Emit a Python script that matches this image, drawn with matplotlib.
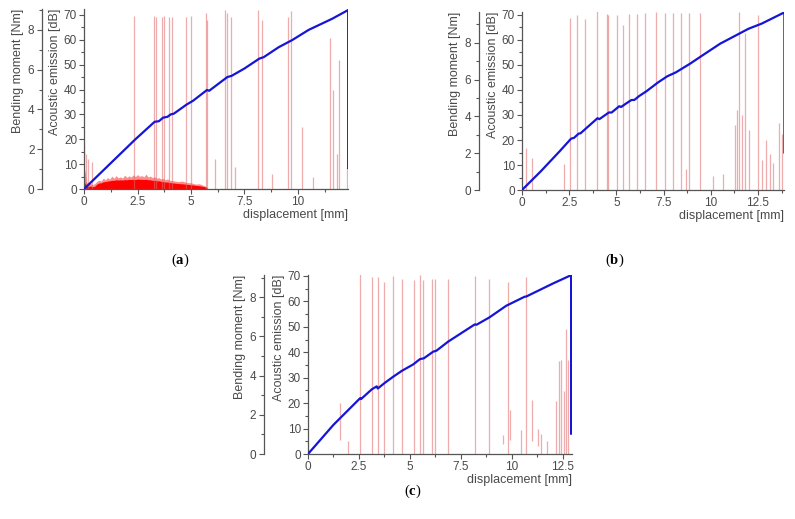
import matplotlib
matplotlib.use("Agg")
import matplotlib.pyplot as plt
from matplotlib.ticker import MultipleLocator

plt.rcParams['font.family'] = ['Liberation Sans', 'DejaVu Sans']
plt.rcParams['mathtext.fontset'] = 'custom'
plt.rcParams['mathtext.rm'] = 'Liberation Serif'
plt.rcParams['mathtext.bf'] = 'Liberation Serif:bold'

# ---- bending moment curves (displacement [mm], moment [Nm]) ----
disp_a = [0, 1.2, 2.4, 3.3, 3.5, 3.7, 3.9, 4.05, 4.2, 4.8, 5.1, 5.75, 5.85, 6.7, 6.9,
          7.5, 8.2, 8.4, 9.1, 9.75, 10.5, 11.6, 12.35, 12.35]
moment_a = [0, 1.25, 2.5, 3.38, 3.41, 3.59, 3.63, 3.75, 3.79, 4.25, 4.44, 4.98, 4.94,
            5.63, 5.69, 6.06, 6.56, 6.63, 7.13, 7.5, 8.0, 8.56, 9.0, 1.06]

disp_b = [0, 1, 2, 2.6, 2.75, 3.0, 3.1, 3.45, 4.0, 4.1, 4.6, 4.75, 5.15, 5.25, 5.5, 5.8,
          5.95, 6.2, 6.6, 7.2, 7.7, 8.15, 8.9, 9.6, 10.5, 11.5, 12.0, 12.7, 13.9, 13.9]
moment_b = [0, 1.02, 2.11, 2.79, 2.83, 3.06, 3.08, 3.40, 3.90, 3.85, 4.21, 4.21, 4.55,
            4.51, 4.69, 4.89, 4.89, 5.10, 5.37, 5.84, 6.18, 6.39, 6.86, 7.34, 7.95, 8.49,
            8.76, 9.04, 9.65, 2.04]

disp_c = [0, 1.25, 2.56, 2.6, 3.13, 3.37, 3.42, 3.78, 4.19, 4.6, 5.16, 5.49, 5.68, 6.14,
          6.3, 6.87, 8.18, 8.26, 8.9, 9.72, 10.62, 10.7, 12.0, 12.9, 12.9]
moment_c = [0, 1.49, 2.85, 2.80, 3.30, 3.45, 3.34, 3.64, 3.95, 4.24, 4.57, 4.84, 4.88,
            5.22, 5.27, 5.73, 6.61, 6.59, 6.97, 7.56, 8.02, 8.03, 8.69, 9.12, 1.04]

# ---- acoustic emission hits (position [mm], base [dB], peak [dB]) ----
hit_x_a = [2.35, 3.29, 3.35, 3.66, 3.75, 3.99, 4.1, 4.75, 5.0, 5.7, 5.73, 6.6, 6.67, 6.85,
           8.12, 8.33, 9.52, 9.66, 11.5, 11.65, 11.93, 12.3, 10.17, 10.7, 6.12, 7.07, 8.77,
           11.84, 0.02, 0.1, 0.2, 0.35]
hit_lo_a = [0] * len(hit_x_a)
hit_hi_a = [69.6, 69.6, 69, 69, 69.6, 69, 69, 69, 69.6, 71, 68, 72, 71, 69, 72, 67.8, 69,
            71.6, 60.8, 40, 52, 9, 25, 5, 12, 9, 6, 14, 18, 14, 12, 11]

hit_x_b = [2.53, 2.93, 3.36, 3.98, 4.5, 4.58, 5.04, 5.35, 5.65, 6.1, 6.5, 7.08, 7.56, 8.0,
           8.41, 8.82, 9.42, 11.5, 11.8, 12.5, 0.19, 0.55, 2.2, 8.7, 11.27, 11.4, 11.68,
           12.03, 12.9, 13.13, 13.3, 13.62, 13.75, 12.7, 10.1, 10.65]
hit_lo_b = [0] * len(hit_x_b)
hit_hi_b = [68.6, 70, 68.2, 71.7, 70.4, 70, 70, 66, 70.4, 70.4, 70.6, 71.3, 70.8, 70.6,
            70.6, 70.6, 70.6, 71, 62.6, 70, 17, 13, 10.5, 8.5, 26, 32, 30, 24, 20, 14.5,
            11, 26.6, 22.5, 11.9, 5.6, 6.5]

hit_x_c = [2.56, 3.13, 3.42, 3.75, 4.16, 4.61, 5.2, 5.49, 5.65, 6.1, 6.23, 6.88, 8.21, 8.88,
           9.81, 10.67, 1.58, 1.96, 9.9, 9.57, 10.43, 11.0, 11.28, 11.44, 11.7, 12.17,
           12.3, 12.42, 12.55, 12.66, 12.74]
hit_lo_c = [0] * 16 + [5.6, 0, 5.5, 4, 0, 5, 3, 0, 0, 0, 0, 0, 0, 0, 0]
hit_hi_c = [70.8, 69.7, 69.7, 67.8, 70, 69, 68.4, 70.4, 68.4, 68.7, 68.7, 69, 70, 69, 67.8,
            69.7, 20, 5, 17.4, 7.6, 9.5, 21.3, 10, 8, 5, 21, 36.4, 37, 24.6, 49, 37]

# dense low-amplitude emission in specimen (a): ragged outer envelope and solid core
noise_x = [0, 0.05, 0.1, 0.15, 0.2, 0.3, 0.4, 0.5, 0.6, 0.7, 0.8, 0.9, 1.0, 1.1, 1.2,
           1.3, 1.4, 1.5, 1.6, 1.7, 1.8, 1.9, 2.0, 2.1, 2.2, 2.3, 2.4, 2.5, 2.6, 2.7, 2.8,
           2.9, 3.0, 3.1, 3.2, 3.3, 3.4, 3.5, 3.6, 3.7, 3.8, 3.9, 4.0, 4.2, 4.4, 4.6, 4.8,
           5.0, 5.2, 5.4, 5.6, 5.72, 5.78]
noise_top = [4, 8, 3, 2.5, 2, 2.4, 1.6, 2.2, 3.0, 3.6, 3.2, 4.4, 3.7, 4.6, 4.0, 5.2, 4.3,
             5.4, 4.5, 4.9, 4.4, 5.6, 4.7, 5.3, 4.8, 5.7, 5.0, 5.8, 5.1, 5.4, 4.9, 6.0, 4.8,
             5.2, 4.6, 4.9, 4.3, 4.6, 4.0, 4.3, 3.7, 4.1, 3.5, 3.3, 3.0, 3.2, 2.6, 2.5, 2.0,
             2.1, 1.4, 1.0, 0]
noise_core = [1.5, 2.5, 1.5, 1.2, 1.0, 1.2, 0.9, 1.1, 2.0, 2.4, 2.5, 2.9, 3.0, 3.2, 3.3,
              3.5, 3.5, 3.7, 3.6, 3.7, 3.6, 3.8, 3.7, 3.9, 3.8, 3.9, 3.8, 4.0, 3.9, 3.9,
              3.8, 3.9, 3.7, 3.7, 3.5, 3.5, 3.3, 3.3, 3.1, 3.0, 2.8, 2.8, 2.6, 2.4, 2.2,
              2.1, 1.9, 1.7, 1.5, 1.3, 1.0, 0.7, 0]

panels = [
    dict(rect=[0.1057, 0.6358, 0.332, 0.3468], disp=disp_a, moment=moment_a,
         hx=hit_x_a, hlo=hit_lo_a, hhi=hit_hi_a, xmax=12.34, ae_top=72.4, m_top=9.05,
         off=30.2, tag='a', tag_xy=(0.2264, 0.499)),
    dict(rect=[0.6566, 0.6339, 0.3296, 0.343], disp=disp_b, moment=moment_b,
         hx=hit_x_b, hlo=hit_lo_b, hhi=hit_hi_b, xmax=13.88, ae_top=71.2, m_top=9.67,
         off=31.0, tag='b', tag_xy=(0.7736, 0.499)),
    dict(rect=[0.3874, 0.1252, 0.332, 0.345], disp=disp_c, moment=moment_c,
         hx=hit_x_c, hlo=hit_lo_c, hhi=hit_hi_c, xmax=12.94, ae_top=70.4, m_top=9.13,
         off=31.7, tag='c', tag_xy=(0.5195, 0.054)),
]

grey = '#555555'
txt = '#4a4a4a'
fig = plt.figure(figsize=(7.95, 5.19), dpi=100)

for i, p in enumerate(panels):
    ax = fig.add_axes(p['rect'])
    ax.vlines(p['hx'], p['hlo'], p['hhi'], color='#e06868', alpha=0.55, lw=0.9)
    if i == 0:
        ax.fill_between(noise_x, 0, noise_top, color='#ff3030', alpha=0.55, lw=0)
        ax.fill_between(noise_x, 0, noise_core, color='#ff0000', lw=0)
    ax.set_xlim(0, p['xmax'])
    ax.set_ylim(0, p['ae_top'])
    ax.xaxis.set_major_locator(MultipleLocator(2.5))
    ax.xaxis.set_minor_locator(MultipleLocator(1.25))
    ax.yaxis.set_major_locator(MultipleLocator(10))
    ax.yaxis.set_minor_locator(MultipleLocator(5))
    ax.xaxis.set_major_formatter(plt.FuncFormatter(lambda v, pos: f'{v:g}'))
    for s in ['top', 'right']:
        ax.spines[s].set_visible(False)
    for s in ['left', 'bottom']:
        ax.spines[s].set_color(grey)
        ax.spines[s].set_linewidth(0.9)
    ax.tick_params(which='both', direction='out', colors=grey, labelsize=8.5,
                   labelcolor=txt, width=0.8, pad=1.5)
    ax.tick_params(which='major', length=3.5)
    ax.tick_params(which='minor', length=2)
    ax.set_xlabel('displacement [mm]', loc='right', fontsize=9, color=txt, labelpad=1)
    ax.set_ylabel('Acoustic emission [dB]', loc='top', fontsize=9, color=txt,
                  labelpad=2)

    ax2 = ax.twinx()
    ax2.plot(p['disp'], p['moment'], color='#1515d8', lw=1.6)
    ax2.set_ylim(0, p['m_top'])
    ax2.yaxis.set_major_locator(MultipleLocator(2))
    ax2.yaxis.set_minor_locator(MultipleLocator(1))
    ax2.yaxis.tick_left()
    ax2.yaxis.set_label_position('left')
    for s in ['top', 'right', 'bottom']:
        ax2.spines[s].set_visible(False)
    ax2.spines['left'].set_visible(True)
    ax2.spines['left'].set_position(('outward', p['off']))
    ax2.spines['left'].set_color(grey)
    ax2.spines['left'].set_linewidth(0.9)
    ax2.tick_params(which='both', direction='out', colors=grey, labelsize=8.5,
                    labelcolor=txt, width=0.8, pad=2)
    ax2.tick_params(which='major', length=3.5)
    ax2.tick_params(which='minor', length=2)
    ax2.set_ylabel('Bending moment [Nm]', loc='top', fontsize=9, color=txt, labelpad=3)

    fig.text(p['tag_xy'][0], p['tag_xy'][1], '($\\mathbf{' + p['tag'] + '}$)',
             ha='center', va='center', fontsize=10.5, family='Liberation Serif')

fig.savefig('out.png', dpi=100)
